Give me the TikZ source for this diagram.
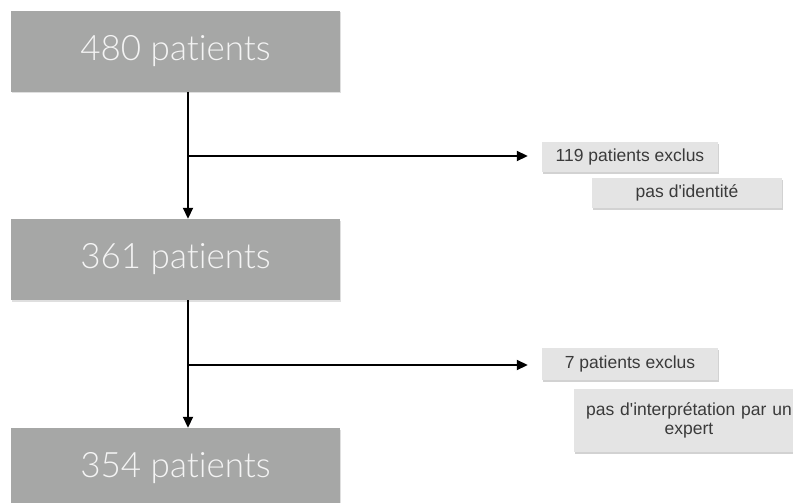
\documentclass[tikz,border=0pt]{standalone}
\usepackage{fontspec}
\setmainfont{Lato Light}[Ligatures={NoCommon}]
\newfontfamily\regfont{Liberation Sans}
\usetikzlibrary{arrows.meta,shadows}
\definecolor{bigfill}{HTML}{A6A7A6}
\definecolor{bigtext}{HTML}{F4F4F4}
\definecolor{smallfill}{HTML}{E4E4E4}
\definecolor{smalltext}{HTML}{3A3A3A}
\tikzset{
  bigbox/.style={fill=bigfill, text=bigtext, minimum width=329pt, minimum height=81pt,
    inner sep=0pt, font=\fontsize{35}{40}\selectfont,
    drop shadow={shadow xshift=0.8pt, shadow yshift=-1.5pt, opacity=0.25}},
  smallbox/.style={fill=smallfill, text=smalltext, inner sep=0pt,
    font=\regfont\fontsize{17.5}{19}\selectfont, align=center,
    drop shadow={shadow xshift=0.8pt, shadow yshift=-1.5pt, opacity=0.35}},
  conn/.style={line width=1.8pt, black},
  arr/.style={conn, -{Triangle[length=11pt,width=10pt]}}
}
\begin{document}
\begin{tikzpicture}[x=1pt,y=-1pt]
\useasboundingbox (0,0) rectangle (793,503);
\clip (0,0) rectangle (793,503);
\fill[white] (0,0) rectangle (793,503);
\node[bigbox] (a) at (175.5,51.5) {\raisebox{-3pt}{480 patients}};
\node[bigbox] (b) at (175.5,259.5) {\raisebox{-3pt}{361 patients}};
\node[bigbox] (c) at (175.5,468.5) {\raisebox{-3pt}{354 patients}};
\node[smallbox, minimum width=176pt, minimum height=30pt] (e1) at (630,157) {119 patients exclus};
\node[smallbox, minimum width=190pt, minimum height=30pt] (e2) at (687,193) {pas d'identité};
\node[smallbox, minimum width=230pt, minimum height=63pt, text width=226pt] (e4) at (689,420.5) {pas d'interprétation par un\\expert};
\node[smallbox, minimum width=176pt, minimum height=32pt] (e3) at (630,364) {7 patients exclus};
\coordinate (v) at (188,0);
\coordinate (h1) at (188,156);
\coordinate (h2) at (188,365);
\draw[arr] (a.south -| v) -- (b.north -| v);
\draw[arr] (b.south -| v) -- (c.north -| v);
\draw[arr, shorten >=14pt] (h1) -- (h1 -| e1.west);
\draw[arr, shorten >=14pt] (h2) -- (h2 -| e3.west);
\end{tikzpicture}
\end{document}
